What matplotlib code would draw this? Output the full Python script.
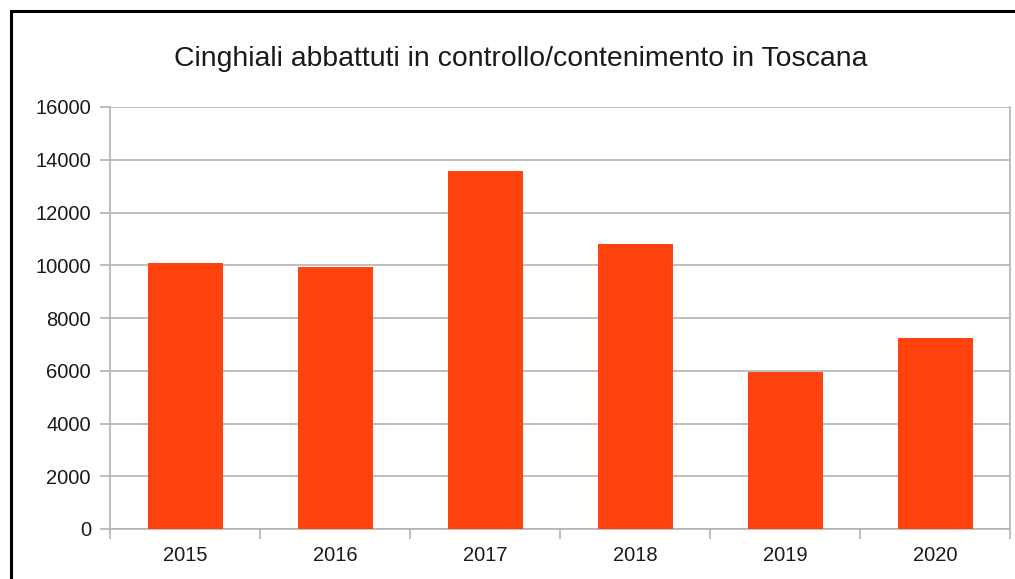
import matplotlib
matplotlib.use("Agg")
import matplotlib.pyplot as plt
from matplotlib.patches import Rectangle
import numpy as np

plt.rcParams['font.family'] = ['Liberation Sans', 'DejaVu Sans']

# data
anni = ["2015", "2016", "2017", "2018", "2019", "2020"]
abbattuti = [10080, 9950, 13580, 10820, 5940, 7260]

GRAY = "#b3b3b3"
TXT = "#1a1a1a"

fig = plt.figure(figsize=(10.15, 5.79), dpi=100)
ax = fig.add_axes([110 / 1015, 50 / 579, 900 / 1015, 422 / 579])

x = np.arange(len(anni))
ax.bar(x, abbattuti, width=0.5, color="#ff420e", zorder=3)

ax.set_xlim(-0.5, len(anni) - 0.5)
ax.set_ylim(0, 16000)
ax.set_yticks(np.arange(0, 16001, 2000))
ax.yaxis.grid(True, color=GRAY, linewidth=1.2, zorder=0)

ax.set_xticks(x)
ax.set_xticklabels(anni)
ax.set_xticks(np.arange(-0.5, len(anni)), minor=True)
ax.tick_params(axis="x", which="major", length=0, pad=12, labelsize=14.5, labelcolor=TXT)
ax.tick_params(axis="x", which="minor", length=7.2, width=1.2, color=GRAY)
ax.tick_params(axis="y", length=7.2, width=1.2, color=GRAY, pad=6.5, labelsize=14.5, labelcolor=TXT)

for s in ["left", "bottom", "right"]:
    ax.spines[s].set_color(GRAY)
    ax.spines[s].set_linewidth(1.2)
ax.spines["top"].set_visible(False)

fig.text(521 / 1015, 1 - 59 / 579, "Cinghiali abbattuti in controllo/contenimento in Toscana",
         ha="center", va="center", fontsize=20.4, color=TXT)

# chart frame (right and bottom sides fall outside the crop)
fig.patches.append(Rectangle((10.5 / 1015, -0.2), 1.2, 1.2 - 10.5 / 579,
                             transform=fig.transFigure, fill=False,
                             edgecolor="black", linewidth=2.2))

fig.savefig("out.png", dpi=100)
